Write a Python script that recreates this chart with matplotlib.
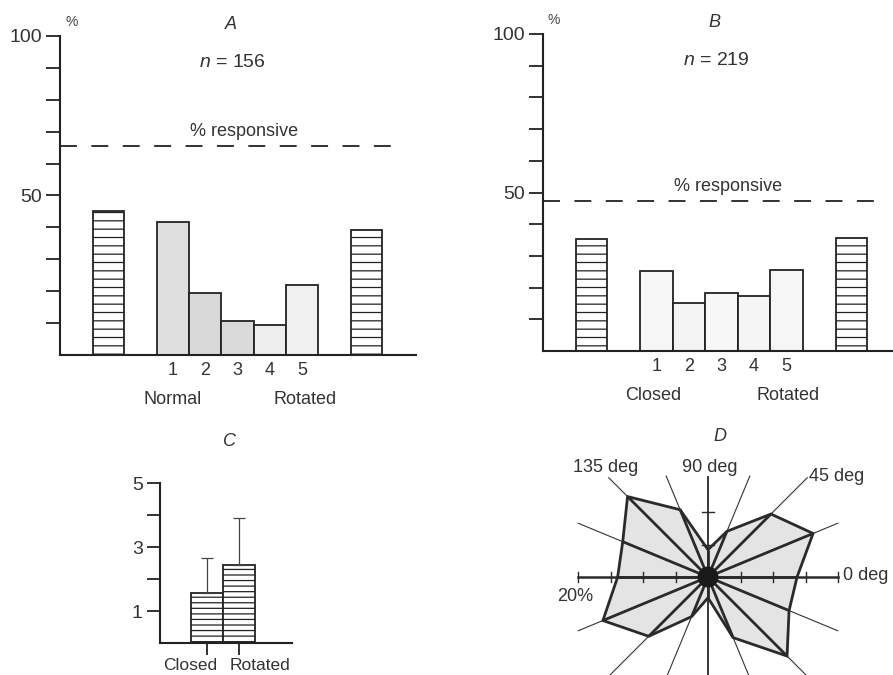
import numpy as np
import matplotlib
matplotlib.use("Agg")
from matplotlib import pyplot as plt
from matplotlib.patches import Circle, Polygon

plt.rcParams['font.family'] = ['Liberation Sans', 'DejaVu Sans']
plt.rcParams['mathtext.fontset'] = 'custom'
plt.rcParams['mathtext.rm'] = 'Liberation Sans'
plt.rcParams['mathtext.it'] = 'Liberation Sans:italic'
plt.rcParams['hatch.linewidth'] = 0.9

# panel A: normal vs rotated face, % of cells
a_side = [45.0, 39.2]          # hatched bars: normal, rotated
a_steps = [41.7, 19.4, 10.7, 9.4, 22.0]
a_responsive = 65.5
a_n = 156

# panel B: closed vs rotated
b_side = [35.3, 35.7]
b_steps = [25.2, 15.2, 18.4, 17.4, 25.5]
b_responsive = 47.3
b_n = 219

step_labels = ['1', '2', '3', '4', '5']

# panel C
c_labels = ['Closed', 'Rotated']
c_means = [1.57, 2.43]
c_err = [1.10, 1.47]

# panel D: polar plot, % of cells per orientation
d_angles = [0, 22.5, 45, 67.5, 90, 112.5, 135, 157.5,
            180, 202.5, 225, 247.5, 270, 292.5, 315, 337.5]
d_radius = [13.7, 17.5, 13.7, 7.6, 4.2, 11.2, 17.5, 14.2,
            13.9, 17.5, 12.9, 6.6, 3.2, 10.1, 17.2, 13.5]

W, H = 893, 675
fig = plt.figure(figsize=(W / 100, H / 100), dpi=100)


def px_axes(left, top, right, bottom):
    return fig.add_axes([left / W, 1 - bottom / H, (right - left) / W, (bottom - top) / H])


def bar_panel(ax, side, steps, resp, n, letter, left_lab, left_x, right_lab, right_x, xmax, colors):
    ax.bar([-1, 7], side, width=0.96, color='white', edgecolor='#222222',
           linewidth=1.3, hatch='--')
    ax.bar([1, 2, 3, 4, 5], steps, width=1.0, color=colors, edgecolor='#222222', linewidth=1.3)
    lw = 1.3
    ax.plot([-2.5, 7.95], [resp, resp], color='#222222', lw=lw,
            ls=(0, (12.2 / lw, 10.4 / lw)), clip_on=False)
    ax.set_xlim(-2.5, xmax)
    ax.set_ylim(0, 100)
    for s in ['top', 'right']:
        ax.spines[s].set_visible(False)
    for s in ['left', 'bottom']:
        ax.spines[s].set_linewidth(1.5)
        ax.spines[s].set_color('#222222')
    ax.set_yticks(range(10, 101, 10))
    ax.set_yticklabels(['50' if v == 50 else ('100' if v == 100 else '') for v in range(10, 101, 10)],
                       fontsize=14, color='#333333')
    ax.tick_params(axis='y', length=10, width=1.3, pad=3, color='#222222')
    ax.set_xticks([1, 2, 3, 4, 5])
    ax.set_xticklabels(step_labels, fontsize=13, color='#333333')
    ax.tick_params(axis='x', length=0, pad=5)
    ax.text(-2.15, 104.5, '%', fontsize=10, color='#444444', ha='center', va='center', clip_on=False)
    ax.text(2.8, 103.6, letter, fontsize=13, style='italic', color='#333333', ha='center', va='center')
    ax.text(2.85, 91.6, '$n$ = %d' % n, fontsize=14, color='#333333', ha='center', va='center')
    ax.text(3.2, resp + 4.6, '% responsive', fontsize=13, color='#333333', ha='center', va='center')
    ax.text(left_x, -14.0, left_lab, fontsize=13, color='#333333', ha='center', va='center', clip_on=False)
    ax.text(right_x, -14.0, right_lab, fontsize=13, color='#333333', ha='center', va='center', clip_on=False)


ax_a = px_axes(60, 36, 416.4, 355)
bar_panel(ax_a, a_side, a_steps, a_responsive, a_n, 'A', 'Normal', 1.0, 'Rotated', 5.1, 8.55,
          ['#dedede', '#d9d9d9', '#dadada', '#eeeeee', '#f1f1f1'])

ax_b = px_axes(542.7, 34, 893, 351)
bar_panel(ax_b, b_side, b_steps, b_responsive, b_n, 'B', 'Closed', 0.9, 'Rotated', 5.05, 8.28,
          ['#f6f6f6', '#f3f3f3', '#f7f7f7', '#f5f5f5', '#f6f6f6'])

# panel C
ax_c = px_axes(160, 483, 292, 643)
ax_c.bar([0, 1], c_means, width=1.0, color='white', edgecolor='#222222', linewidth=1.3, hatch='---')
ax_c.errorbar([0, 1], c_means, yerr=[[0, 0], c_err], fmt='none', ecolor='#444444',
              elinewidth=0.9, capsize=4, capthick=0.9)
ax_c.set_xlim(-1.48, 2.64)
ax_c.set_ylim(0, 5)
for s in ['top', 'right']:
    ax_c.spines[s].set_visible(False)
for s in ['left', 'bottom']:
    ax_c.spines[s].set_linewidth(1.5)
    ax_c.spines[s].set_color('#222222')
ax_c.set_yticks([1, 2, 3, 4, 5])
ax_c.set_yticklabels(['1', '', '3', '', '5'], fontsize=14, color='#333333')
ax_c.tick_params(axis='y', length=9.5, width=1.3, pad=3, color='#222222')
ax_c.set_xticks([0, 1])
ax_c.set_xticklabels(['', ''])
ax_c.tick_params(axis='x', length=8.5, width=1.3, color='#222222')
ax_c.text(0.3, -0.84, c_labels[0], fontsize=12.5, color='#333333', ha='right', va='baseline', clip_on=False)
ax_c.text(0.68, -0.84, c_labels[1], fontsize=12.5, color='#333333', ha='left', va='baseline', clip_on=False)
ax_c.text(0.7, 6.3, 'C', fontsize=13, style='italic', color='#333333', ha='center', va='center', clip_on=False)

# panel D
scale = 6.5   # px per %
cx, cy = 708, 577
ax_d = px_axes(548, 425, 893, 675)
ax_d.set_xlim((548 - cx) / scale, (893 - cx) / scale)
ax_d.set_ylim((cy - 675) / scale, (cy - 425) / scale)
ax_d.axis('off')

theta = np.deg2rad(d_angles)
r = np.array(d_radius)
xs = r * np.cos(theta)
ys = r * np.sin(theta)
ax_d.add_patch(Polygon(np.column_stack([xs, ys]), closed=True, facecolor='#e4e4e4',
                       edgecolor='#2a2a2a', linewidth=2.0, joinstyle='miter'))

# thin guide lines
for ang in d_angles:
    if ang % 90 == 0:
        continue
    L = 16.8 if ang in (67.5, 112.5) else 21.6
    t = np.deg2rad(ang)
    ax_d.plot([0, L * np.cos(t)], [0, L * np.sin(t)], color='#333333', lw=0.8)
# axes of the polar plot
ax_d.plot([-20, 20], [0, 0], color='#2a2a2a', lw=1.8)
ax_d.plot([0, 0], [-20, 15.4], color='#2a2a2a', lw=1.3)
for v in [-20, -15, -10, -5, 5, 10, 15, 20]:
    ax_d.plot([v, v], [-0.8, 0.8], color='#2a2a2a', lw=1.0)
for v in [5, 10]:
    ax_d.plot([-0.9, 0.9], [v, v], color='#2a2a2a', lw=1.0, zorder=4)
# thick spokes to each vertex
for x1, y1 in zip(xs, ys):
    ax_d.plot([0, x1], [0, y1], color='#2a2a2a', lw=2.0, solid_capstyle='butt')
ax_d.add_patch(Circle((0, 0), 1.5, color='#1a1a1a', zorder=5))

ax_d.text(-15.8, 16.9, '135 deg', fontsize=13, color='#333333', ha='center', va='center')
ax_d.text(0.3, 16.8, '90 deg', fontsize=13, color='#333333', ha='center', va='center')
ax_d.text(19.8, 15.4, '45 deg', fontsize=13, color='#333333', ha='center', va='center')
ax_d.text(24.2, 0.3, '0 deg', fontsize=13, color='#333333', ha='center', va='center')
ax_d.text(-20.5, -3.0, '20%', fontsize=13, color='#333333', ha='center', va='center')
ax_d.text(1.8, 21.6, 'D', fontsize=13, style='italic', color='#333333', ha='center', va='center')

fig.savefig('out.png', dpi=100)
